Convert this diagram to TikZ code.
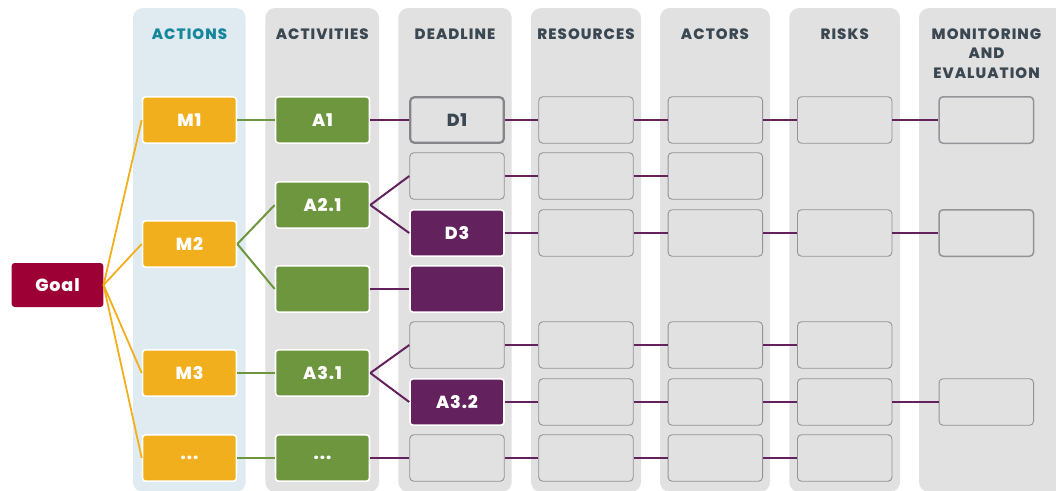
\documentclass[tikz,border=0pt]{standalone}
\usepackage{fontspec}
\setmainfont{Poppins}
\newfontfamily\headfont[LetterSpace=7,BoldFont={Poppins ExtraBold}]{Poppins}
\newfontfamily\boxfont[LetterSpace=5,BoldFont={Poppins ExtraBold}]{Poppins}
\definecolor{cOrange}{HTML}{F2AF1D}
\definecolor{cGreen}{HTML}{6E963E}
\definecolor{cPurple}{HTML}{63215E}
\definecolor{cGoal}{HTML}{9D0035}
\definecolor{cCol}{HTML}{E1E1E1}
\definecolor{cColBlue}{HTML}{DFEBF0}
\definecolor{cBorder}{HTML}{949498}
\definecolor{cHead}{HTML}{3B4751}
\definecolor{cTeal}{HTML}{14879A}
\begin{document}
\begin{tikzpicture}[x=1pt,y=-1pt,
  column/.style={fill=cCol, rounded corners=10pt},
  head/.style={font=\headfont\bfseries\fontsize{15}{19.2}\selectfont, text=cHead, align=center, inner sep=0pt},
  cbox/.style={rectangle, rounded corners=3pt, draw=white, line width=1.6pt, minimum width=94pt, minimum height=46.3pt, text=white, font=\boxfont\bfseries\fontsize{17.5}{17.5}\selectfont, inner sep=0pt},
  mbox/.style={cbox, fill=cOrange},
  abox/.style={cbox, fill=cGreen},
  pbox/.style={cbox, fill=cPurple},
  ebox/.style={rectangle, rounded corners=4pt, draw=cBorder, line width=0.9pt, fill=cCol, minimum width=94.5pt, minimum height=46.5pt, inner sep=0pt, text=cHead, font=\boxfont\bfseries\fontsize{17.5}{17.5}\selectfont},
  oline/.style={draw=cOrange, line width=1.8pt},
  gline/.style={draw=cGreen, line width=2pt},
  pline/.style={draw=cPurple, line width=2pt}
]
\useasboundingbox (0,0) rectangle (1056,490);
% columns
\path[column, fill=cColBlue] (133,8) rectangle (245.7,492);
\path[column] (265.3,8) rectangle (379,492);
\path[column] (398.3,8) rectangle (511.7,492);
\path[column] (531,8) rectangle (641,492);
\path[column] (660,8) rectangle (770,492);
\path[column] (789.3,8) rectangle (900,492);
\path[column] (919,8) rectangle (1070,492);
% headers
\node[head, text=cTeal] (hAct) at (189.5,34.3) {ACTIONS};
\node[head] (hActv) at (322.2,34.3) {ACTIVITIES};
\node[head] (hDead) at (455,34.3) {DEADLINE};
\node[head] (hRes) at (586,34.3) {RESOURCES};
\node[head] (hActr) at (715,34.3) {ACTORS};
\node[head] (hRisk) at (844.7,34.3) {RISKS};
\node[head] (hMon) at (986.5,53.5) {MONITORING\\AND\\EVALUATION};
% goal
\node[rectangle, rounded corners=3pt, fill=cGoal, minimum width=91.7pt, minimum height=44pt, inner sep=0pt, text=white, font=\boxfont\bfseries\fontsize{17.5}{17.5}\selectfont] (goal) at (57.5,285) {Goal};
% actions
\node[mbox] (m1) at (189.5,120) {M1};
\node[mbox] (m2) at (189.5,244) {M2};
\node[mbox] (m3) at (189.5,373) {M3};
\node[mbox] (m4) at (189.5,458) {...};
% activities
\node[abox] (a1) at (322.5,120) {A1};
\node[abox] (a21) at (322.5,205) {A2.1};
\node[abox] (a2e) at (322.5,289) {};
\node[abox] (a31) at (322.5,373) {A3.1};
\node[abox] (a4) at (322.5,458) {...};
% deadline
\node[ebox, draw=cBorder!90!black, line width=2.2pt, minimum width=93.5pt, minimum height=45.5pt] (d1) at (457,120) {D1};
\node[ebox] (d2) at (457,176) {};
\node[pbox] (d3) at (457,233) {D3};
\node[pbox] (d4) at (457,289) {};
\node[ebox] (d5) at (457,345) {};
\node[pbox] (d6) at (457,402) {A3.2};
\node[ebox] (d7) at (457,458) {};
% resources
\node[ebox] (r1) at (586,120) {};
\node[ebox] (r2) at (586,176) {};
\node[ebox] (r3) at (586,233) {};
\node[ebox] (r5) at (586,345) {};
\node[ebox] (r6) at (586,402) {};
\node[ebox] (r7) at (586,458) {};
% actors
\node[ebox] (c1) at (715.3,120) {};
\node[ebox] (c2) at (715.3,176) {};
\node[ebox] (c3) at (715.3,233) {};
\node[ebox] (c5) at (715.3,345) {};
\node[ebox] (c6) at (715.3,402) {};
\node[ebox] (c7) at (715.3,458) {};
% risks
\node[ebox] (k1) at (844.7,120) {};
\node[ebox] (k3) at (844.7,233) {};
\node[ebox] (k5) at (844.7,345) {};
\node[ebox] (k6) at (844.7,402) {};
\node[ebox] (k7) at (844.7,458) {};
% monitoring
\node[ebox, line width=1.5pt] (e1) at (986.3,120) {};
\node[ebox, line width=1.5pt] (e3) at (986.3,233) {};
\node[ebox] (e6) at (986.3,402) {};
% orange
\draw[oline] (goal.east) -- (m1.west);
\draw[oline] (goal.east) -- (m2.west);
\draw[oline] (goal.east) -- (m3.west);
\draw[oline] (goal.east) -- (m4.west);
% green
\draw[gline] (m1.east) -- (a1.west);
\draw[gline] (m2.east) -- (a21.west);
\draw[gline] (m2.east) -- (a2e.west);
\draw[gline] (m3.east) -- (a31.west);
\draw[gline] (m4.east) -- (a4.west);
% purple
\draw[pline] (a1.east) -- (d1.west);
\draw[pline] (d1.east) -- (r1.west) (r1.east) -- (c1.west) (c1.east) -- (k1.west) (k1.east) -- (e1.west);
\draw[pline] (a21.east) -- (d2.west);
\draw[pline] (a21.east) -- (d3.west);
\draw[pline] (d2.east) -- (r2.west) (r2.east) -- (c2.west);
\draw[pline] (d3.east) -- (r3.west) (r3.east) -- (c3.west) (c3.east) -- (k3.west) (k3.east) -- (e3.west);
\draw[pline] (a2e.east) -- (d4.west);
\draw[pline] (a31.east) -- (d5.west);
\draw[pline] (a31.east) -- (d6.west);
\draw[pline] (d5.east) -- (r5.west) (r5.east) -- (c5.west) (c5.east) -- (k5.west);
\draw[pline] (d6.east) -- (r6.west) (r6.east) -- (c6.west) (c6.east) -- (k6.west) (k6.east) -- (e6.west);
\draw[pline] (a4.east) -- (d7.west);
\draw[pline] (d7.east) -- (r7.west) (r7.east) -- (c7.west) (c7.east) -- (k7.west);
\end{tikzpicture}
\end{document}
